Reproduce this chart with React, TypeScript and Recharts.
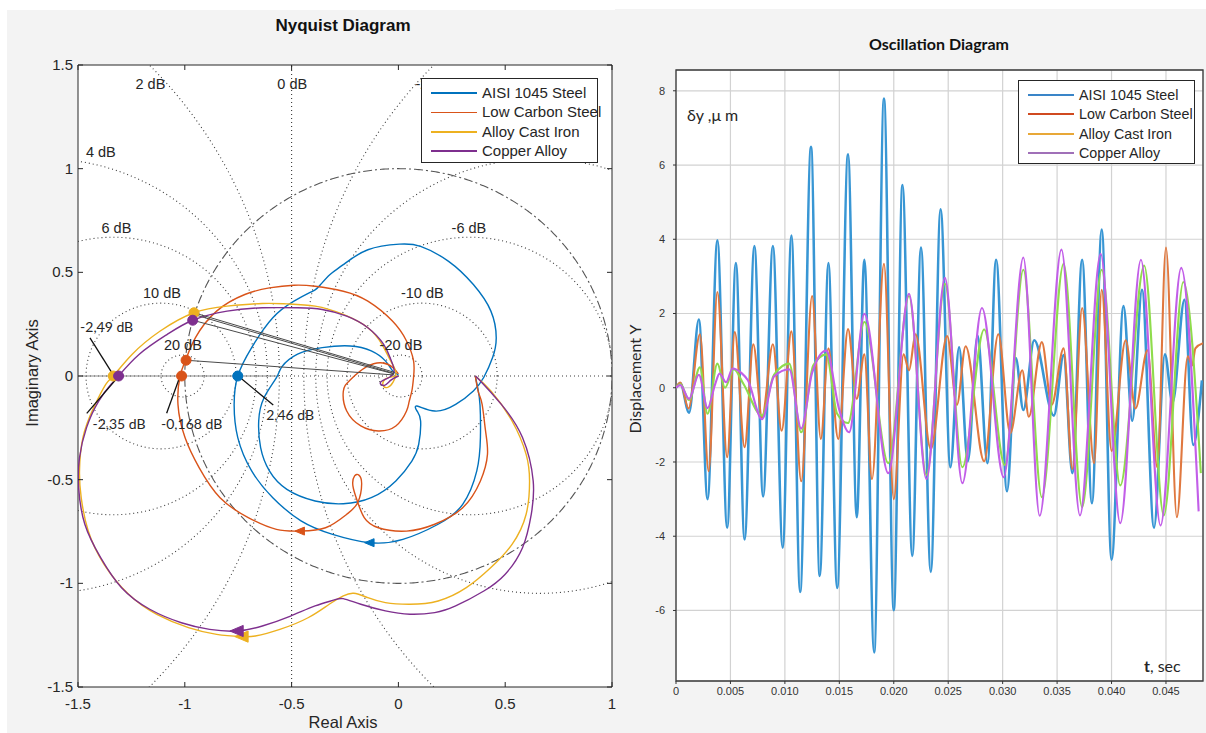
import React from 'react';
import { LineChart, Line, XAxis, YAxis, CartesianGrid, ReferenceLine, ReferenceDot, ReferenceArea } from 'recharts';

type P = [number, number];

const FONT = '"Liberation Sans", Arial, sans-serif';
const FONT2 = 'Lato, "Open Sans", sans-serif';

// ---------------- Nyquist panel data ----------------
const nyqXTicks = [-1.5, -1, -0.5, 0, 0.5, 1];
const nyqYTicks = [-1.5, -1, -0.5, 0, 0.5, 1, 1.5];
const mCircleDb = [20, 10, 6, 4, 2, -2, -4, -6, -10, -20];
const dbLabelText = ['2 dB', '0 dB', '-2 dB', '4 dB', '6 dB', '10 dB', '20 dB', '-6 dB', '-10 dB', '-20 dB'];
const dbLabelPos: P[] = [
  [-1.161, 1.411], [-0.497, 1.411], [0.161, 1.411], [-1.393, 1.082], [-1.32, 0.714],
  [-1.107, 0.402], [-1.009, 0.152], [0.33, 0.714], [0.112, 0.402], [0.012, 0.152],
];

const seriesNames = ['AISI 1045 Steel', 'Low Carbon Steel', 'Alloy Cast Iron', 'Copper Alloy'];
const nyqColors = ['#0072BD', '#D95319', '#EDB120', '#7E2F8E'];

const nyqAisi: P[] = [
  [0.36, 0.0], [0.372, -0.06], [0.382, -0.14], [0.384, -0.297], [0.367, -0.458], [0.301, -0.619], [0.186, -0.715],
  [0.021, -0.788], [-0.135, -0.804], [-0.308, -0.764], [-0.456, -0.699], [-0.588, -0.587], [-0.687, -0.458],
  [-0.752, -0.297], [-0.769, -0.137], [-0.752, 0.0], [-0.687, 0.137], [-0.588, 0.281], [-0.489, 0.361],
  [-0.42, 0.4], [-0.39, 0.415], [-0.365, 0.44], [-0.32, 0.49], [-0.258, 0.537], [-0.143, 0.609], [0.005, 0.636],
  [0.104, 0.625], [0.235, 0.553], [0.351, 0.441], [0.433, 0.313], [0.458, 0.185], [0.441, 0.089], [0.4, -0.006],
  [0.351, -0.072], [0.268, -0.137], [0.17, -0.169], [0.087, -0.145], [0.088, -0.17], [0.104, -0.217],
  [0.095, -0.33], [0.063, -0.41], [-0.012, -0.506], [-0.127, -0.587], [-0.258, -0.616], [-0.39, -0.603],
  [-0.522, -0.547], [-0.604, -0.458], [-0.645, -0.346], [-0.654, -0.217], [-0.629, -0.105], [-0.571, -0.008],
  [-0.545, 0.045], [-0.472, 0.105], [-0.357, 0.137], [-0.226, 0.145], [-0.127, 0.121], [-0.061, 0.073],
  [-0.028, 0.026], [0.0, 0.005],
];
const nyqLowCarbon: P[] = [
  [0.36, 0.0], [0.375, -0.08], [0.392, -0.137], [0.408, -0.265], [0.417, -0.378], [0.384, -0.506],
  [0.301, -0.635], [0.17, -0.715], [0.038, -0.748], [-0.094, -0.732], [-0.16, -0.683], [-0.19, -0.61],
  [-0.213, -0.53], [-0.205, -0.482], [-0.185, -0.478], [-0.172, -0.52], [-0.19, -0.61], [-0.242, -0.667],
  [-0.341, -0.732], [-0.461, -0.748], [-0.571, -0.74], [-0.703, -0.683], [-0.835, -0.587], [-0.933, -0.442],
  [-0.999, -0.297], [-1.032, -0.137], [-1.022, 0.0], [-0.997, 0.075], [-0.95, 0.185], [-0.851, 0.313],
  [-0.719, 0.393], [-0.604, 0.425], [-0.489, 0.438], [-0.39, 0.433], [-0.258, 0.409], [-0.143, 0.361],
  [-0.028, 0.265], [0.038, 0.169], [0.071, 0.073], [0.071, -0.006], [0.063, -0.072], [0.05, -0.125],
  [0.038, -0.169], [-0.012, -0.241], [-0.094, -0.265], [-0.176, -0.241], [-0.242, -0.169], [-0.258, -0.075],
  [-0.227, -0.02], [-0.148, 0.045], [-0.072, 0.063], [-0.025, 0.04], [0.0, 0.01],
];
const nyqCastIron: P[] = [
  [0.36, 0.0], [0.433, -0.072], [0.532, -0.217], [0.598, -0.378], [0.614, -0.506], [0.598, -0.667],
  [0.532, -0.812], [0.433, -0.924], [0.318, -1.021], [0.186, -1.085], [0.054, -1.101], [-0.061, -1.093],
  [-0.143, -1.069], [-0.209, -1.048], [-0.258, -1.061], [-0.324, -1.101], [-0.423, -1.166], [-0.555, -1.222],
  [-0.67, -1.254], [-0.733, -1.257], [-0.851, -1.246], [-0.983, -1.214], [-1.131, -1.15], [-1.263, -1.053],
  [-1.378, -0.908], [-1.452, -0.748], [-1.485, -0.587], [-1.493, -0.458], [-1.477, -0.297], [-1.427, -0.153],
  [-1.37, -0.04], [-1.335, 0.0], [-1.246, 0.105], [-1.115, 0.217], [-0.957, 0.305], [-0.802, 0.337],
  [-0.637, 0.35], [-0.522, 0.348], [-0.39, 0.337], [-0.258, 0.297], [-0.143, 0.233], [-0.077, 0.153],
  [-0.036, 0.073], [-0.012, 0.018], [-0.025, -0.03], [-0.05, -0.055], [-0.072, -0.045], [-0.062, -0.015],
  [-0.03, -0.004], [0.0, 0.0],
];
const nyqCopper: P[] = [
  [0.36, 0.0], [0.384, -0.024], [0.482, -0.137], [0.581, -0.297], [0.631, -0.506], [0.622, -0.667],
  [0.581, -0.828], [0.499, -0.957], [0.4, -1.037], [0.268, -1.109], [0.17, -1.141], [0.054, -1.149],
  [-0.061, -1.133], [-0.176, -1.101], [-0.258, -1.074], [-0.3, -1.08], [-0.39, -1.109], [-0.505, -1.158],
  [-0.637, -1.206], [-0.756, -1.23], [-0.884, -1.222], [-1.016, -1.19], [-1.164, -1.125], [-1.296, -1.021],
  [-1.394, -0.876], [-1.468, -0.715], [-1.497, -0.539], [-1.493, -0.394], [-1.46, -0.249], [-1.403, -0.121],
  [-1.345, -0.04], [-1.31, 0.0], [-1.213, 0.105], [-1.082, 0.201], [-0.963, 0.269], [-0.802, 0.313],
  [-0.637, 0.329], [-0.472, 0.329], [-0.357, 0.321], [-0.242, 0.289], [-0.143, 0.233], [-0.069, 0.153],
  [-0.036, 0.081], [-0.02, 0.026], [-0.04, -0.005], [-0.07, -0.02], [-0.085, -0.035], [-0.065, -0.045],
  [-0.035, -0.02], [0.0, 0.0],
];
const nyqCurves = [nyqAisi, nyqLowCarbon, nyqCastIron, nyqCopper];

// marker dots: [x, y, seriesIndex]
const nyqDots: [number, number, number][] = [
  [-1.335, 0.0, 2], [-0.957, 0.305, 2], [-1.31, 0.0, 3], [-0.963, 0.269, 3],
  [-1.015, 0.0, 1], [-0.994, 0.076, 1], [-0.752, 0.0, 0],
];
// direction arrows: [x, y, seriesIndex, size]
const nyqArrows: [number, number, number, number][] = [
  [-0.461, -0.748, 1, 5], [-0.135, -0.804, 0, 5], [-0.733, -1.257, 2, 7], [-0.756, -1.23, 3, 7],
];
// thin lines from the marked points towards the origin
const nyqLeaders: [P, P][] = [
  [[-0.957, 0.305], [-0.02, 0.018]], [[-0.955, 0.296], [-0.02, 0.012]], [[-0.963, 0.269], [-0.02, 0.01]],
  [[-0.994, 0.076], [-0.02, 0.005]],
];
const annotText = ['-2,49 dB', '-2,35 dB', '-0,168 dB', '2,46 dB'];
const annotPos: P[] = [[-1.366, 0.238], [-1.308, -0.23], [-0.968, -0.23], [-0.507, -0.188]];
const annotLines: [P, P][] = [
  [[-1.444, 0.184], [-1.335, 0.005]], [[-1.459, -0.18], [-1.311, -0.003]],
  [[-1.085, -0.18], [-1.022, 0.0]], [[-0.75, 0.0], [-0.586, -0.14]],
];

// ---------------- Oscillation panel data ----------------
const oscXTicks = [0, 0.005, 0.01, 0.015, 0.02, 0.025, 0.03, 0.035, 0.04, 0.045];
const oscYTicks = [-6, -4, -2, 0, 2, 4, 6, 8];
const oscColors = ['#3896d4', '#e0783f', '#8fdc4c', '#c25ee8'];
const oscLegendColors = ['#3a85c8', '#d04a20', '#e8a838', '#a070b8'];

const tAisi = [0, 0.0004, 0.0012, 0.0021, 0.0029, 0.0038, 0.0047, 0.0055, 0.0063, 0.0072, 0.008, 0.0089, 0.0098,
  0.0106, 0.0114, 0.0124, 0.0132, 0.014, 0.0148, 0.0158, 0.0166, 0.0173, 0.0182, 0.0191, 0.02, 0.0208, 0.0217,
  0.0225, 0.0234, 0.0243, 0.0252, 0.026, 0.0268, 0.0277, 0.0286, 0.0294, 0.0304, 0.0312, 0.0319, 0.0329, 0.0347,
  0.0356, 0.0364, 0.0373, 0.0382, 0.0391, 0.04, 0.0411, 0.0419, 0.0428, 0.0439, 0.0449, 0.0456, 0.0467, 0.0475, 0.0483];
const yAisi = [0, 0.12, -0.67, 1.84, -3.0, 3.97, -3.77, 3.36, -4.09, 3.82, -2.93, 3.82, -4.31, 4.1, -5.5, 6.49,
  -5.07, 3.36, -5.39, 6.29, -3.49, 3.45, -7.13, 7.79, -5.99, 5.46, -4.53, 3.78, -4.96, 4.81, -2.14, 1.09, -1.98,
  1.4, -2.03, 3.45, -2.79, 0.8, -0.6, 1.28, -0.75, 0.88, -2.3, 3.45, -3.11, 4.26, -4.63, 2.2, -0.89, 2.64, -3.77,
  0.9, -0.4, 2.37, -1.54, 0.2];

const tLowCarbon = [0, 0.0004, 0.00115, 0.0022, 0.003, 0.0038, 0.0047, 0.0054, 0.0063, 0.0071, 0.0079, 0.0089,
  0.0097, 0.0106, 0.0115, 0.0125, 0.0133, 0.014, 0.0149, 0.0158, 0.0166, 0.0173, 0.018, 0.0191, 0.02, 0.0209,
  0.0214, 0.022, 0.0234, 0.0249, 0.0258, 0.0266, 0.0283, 0.0296, 0.0307, 0.0318, 0.0324, 0.0336, 0.0345, 0.0356,
  0.0364, 0.0373, 0.0384, 0.0391, 0.04, 0.0413, 0.0422, 0.0433, 0.0442, 0.045, 0.046, 0.047, 0.0474, 0.0477, 0.0484];
const yLowCarbon = [0, 0.14, -0.56, 1.44, -2.25, 2.58, -1.87, 1.5, -1.6, 1.17, -0.8, 1.17, -1.16, 1.52, -2.52,
  2.47, -1.38, 1.06, -1.38, 1.58, -0.3, 0.9, -2.46, 3.34, -3.0, 0.9, 0.47, 1.44, -1.65, 1.39, -0.46, 1.12, -1.98,
  1.44, -1.22, 0.47, -0.78, 1.23, -0.46, 1.06, -2.19, 2.15, -2.03, 2.64, -1.7, 1.28, -0.56, 1.01, -2.14, 3.78,
  -3.49, 0.85, 0.6, 1.06, 1.2];

const tCastIron = [0, 0.0004, 0.0012, 0.0022, 0.0029, 0.0038, 0.0045, 0.0053, 0.0062, 0.0079, 0.009, 0.0104,
  0.0115, 0.0126, 0.0138, 0.0148, 0.0158, 0.0173, 0.0195, 0.0214, 0.023, 0.0247, 0.0263, 0.0283, 0.0302, 0.0319,
  0.0336, 0.0356, 0.0373, 0.0391, 0.0408, 0.043, 0.0448, 0.0466, 0.0482];
const yCastIron = [0, 0.1, -0.33, 0.55, -0.7, 0.65, 0.0, 0.5, 0.1, -0.75, 0.35, 0.65, -1.2, 0.6, 0.9, -0.7,
  -0.95, 1.77, -2.03, 2.47, -2.35, 2.8, -2.14, 1.57, -2.08, 3.18, -2.95, 3.34, -3.22, 3.18, -2.63, 3.29, -3.44,
  2.85, -2.3];

const tCopper = [0, 0.0004, 0.0012, 0.0021, 0.0029, 0.0036, 0.004, 0.0046, 0.0052, 0.006, 0.0066, 0.0079, 0.009,
  0.0104, 0.0115, 0.0125, 0.0138, 0.015, 0.0159, 0.0173, 0.0195, 0.0214, 0.023, 0.0247, 0.0263, 0.0281, 0.0301,
  0.0319, 0.0334, 0.0354, 0.0371, 0.039, 0.0408, 0.0427, 0.0445, 0.0464, 0.048];
const yCopper = [0, 0.07, -0.3, 0.35, -0.55, 0.1, 0.38, 0.15, 0.52, 0.4, 0.2, -0.85, 0.3, 0.5, -1.1, 0.4, 1.0,
  -0.6, -1.2, 1.99, -2.3, 2.53, -2.46, 2.96, -2.57, 2.15, -2.41, 3.51, -3.45, 3.72, -3.44, 3.61, -3.65, 3.45,
  -3.71, 3.23, -3.33];

const oscT = [tAisi, tLowCarbon, tCastIron, tCopper];
const oscY = [yAisi, yLowCarbon, yCastIron, yCopper];

// ---------------- layout ----------------
const NY = { left: 78, top: 65, right: 612, bottom: 687 };
const OS = { x0: 622, left: 676, top: 70, right: 1203, bottom: 681 };

const toPts = (arr: P[]) => arr.map(([x, y]) => ({ x, y }));
const circle = (cx: number, cy: number, r: number) =>
  Array.from({ length: 721 }, (_, i) => {
    const a = (i * Math.PI) / 360;
    return { x: cx + r * Math.cos(a), y: cy + r * Math.sin(a) };
  });
const mCircle = (db: number) => {
  const m2 = Math.pow(10, db / 10);
  const m = Math.sqrt(m2);
  return circle(-m2 / (m2 - 1), 0, Math.abs(m / (m2 - 1)));
};

const NyqXTick = (props: any) => {
  const { x, payload } = props;
  return (
    <g>
      <line x1={x} x2={x} y1={NY.bottom} y2={NY.bottom - 5} stroke="#262626" />
      <line x1={x} x2={x} y1={NY.top} y2={NY.top + 5} stroke="#262626" />
      <text x={x} y={NY.bottom + 22} textAnchor="middle" fontSize={15} fill="#262626" fontFamily={FONT}>
        {String(payload.value)}
      </text>
    </g>
  );
};
const NyqYTick = (props: any) => {
  const { y, payload } = props;
  return (
    <g>
      <line x1={NY.left} x2={NY.left + 5} y1={y} y2={y} stroke="#262626" />
      <line x1={NY.right} x2={NY.right - 5} y1={y} y2={y} stroke="#262626" />
      <text x={NY.left - 5} y={y + 5} textAnchor="end" fontSize={15} fill="#262626" fontFamily={FONT}>
        {String(payload.value)}
      </text>
    </g>
  );
};

const tri = (s: number, color: string) => (p: any) => (
  <polygon
    points={`${p.cx - s},${p.cy} ${p.cx + s * 0.9},${p.cy - s * 0.8} ${p.cx + s * 0.9},${p.cy + s * 0.8}`}
    fill={color}
    stroke={color}
  />
);
const txt = (t: string, size: number, family: string, anchor: string = 'middle') => (p: any) => (
  <text x={p.cx} y={p.cy + size * 0.35} textAnchor={anchor as any} fontSize={size} fill="#262626" fontFamily={family}>
    {t}
  </text>
);

function LegendBox(props: {
  left: number; top: number; width: number; height: number; colors: string[]; lineW: number[]; fontSize: number;
}) {
  const { left, top, width, height, colors, lineW, fontSize } = props;
  return (
    <div
      style={{
        position: 'absolute', left, top, width, height, boxSizing: 'border-box', background: '#fff',
        border: '1.3px solid #262626',
      }}
    >
      {seriesNames.map((n, i) => (
        <div key={n} style={{ position: 'absolute', left: 0, top: 14 + i * 19.4 - 10, height: 20, width: '100%' }}>
          <div style={{ position: 'absolute', left: 9, top: 10 - lineW[i] / 2, width: 46, height: lineW[i], background: colors[i] }} />
          <div
            style={{
              position: 'absolute', left: 60, top: 1, fontFamily: FONT, fontSize, color: '#262626',
              whiteSpace: 'nowrap', lineHeight: '18px',
            }}
          >
            {n}
          </div>
        </div>
      ))}
    </div>
  );
}

function Nyquist() {
  return (
    <LineChart
      width={620}
      height={733}
      margin={{ top: NY.top, right: 620 - NY.right, bottom: 733 - NY.bottom - 30, left: NY.left - 40 }}
      style={{ position: 'absolute', left: 0, top: 0 }}
    >
      <XAxis
        dataKey="x"
        type="number"
        domain={[-1.5, 1]}
        ticks={nyqXTicks}
        allowDataOverflow
        height={30}
        axisLine={false}
        tickLine={false}
        tick={<NyqXTick />}
        interval={0}
      />
      <YAxis
        dataKey="y"
        type="number"
        domain={[-1.5, 1.5]}
        ticks={nyqYTicks}
        allowDataOverflow
        width={40}
        axisLine={false}
        tickLine={false}
        tick={<NyqYTick />}
        interval={0}
      />
      {mCircleDb.map((db) => (
        <Line
          key={'m' + db}
          data={mCircle(db)}
          dataKey="y"
          stroke="#3a3a3a"
          strokeWidth={1.1}
          strokeDasharray="1 3"
          dot={false}
          activeDot={false}
          isAnimationActive={false}
          type="linear"
        />
      ))}
      <ReferenceLine x={-0.5} stroke="#3a3a3a" strokeWidth={1.1} strokeDasharray="1 3" />
      <ReferenceLine y={0} stroke="#3a3a3a" strokeWidth={1.1} strokeDasharray="1 3" />
      <ReferenceLine segment={[{ x: -1.5, y: 0 }, { x: -0.57, y: 0 }]} stroke="#8a8a8a" strokeWidth={1.2} />
      <Line
        data={circle(0, 0, 1)}
        dataKey="y"
        stroke="#555"
        strokeWidth={1.1}
        strokeDasharray="9 3 2 3"
        dot={false}
        activeDot={false}
        isAnimationActive={false}
        type="linear"
      />
      {nyqCurves.map((c, i) => (
        <Line
          key={'c' + i}
          data={toPts(c)}
          dataKey="y"
          stroke={nyqColors[i]}
          strokeWidth={1.4}
          dot={false}
          activeDot={false}
          isAnimationActive={false}
          type="natural"
        />
      ))}
      {nyqLeaders.map((s, i) => (
        <ReferenceLine
          key={'ld' + i}
          segment={[{ x: s[0][0], y: s[0][1] }, { x: s[1][0], y: s[1][1] }]}
          stroke="#4a4a4a"
          strokeWidth={1}
        />
      ))}
      {annotLines.map((s, i) => (
        <ReferenceLine
          key={'al' + i}
          segment={[{ x: s[0][0], y: s[0][1] }, { x: s[1][0], y: s[1][1] }]}
          stroke="#111"
          strokeWidth={1.3}
        />
      ))}
      {nyqDots.map((d, i) => (
        <ReferenceDot key={'d' + i} x={d[0]} y={d[1]} r={5} fill={nyqColors[d[2]]} stroke={nyqColors[d[2]]} />
      ))}
      {nyqArrows.map((a, i) => (
        <ReferenceDot key={'a' + i} x={a[0]} y={a[1]} r={a[3]} shape={tri(a[3], nyqColors[a[2]])} />
      ))}
      {dbLabelText.map((t, i) => (
        <ReferenceDot key={'db' + i} x={dbLabelPos[i][0]} y={dbLabelPos[i][1]} r={1} shape={txt(t, 14.5, FONT)} />
      ))}
      {annotText.map((t, i) => (
        <ReferenceDot key={'an' + i} x={annotPos[i][0]} y={annotPos[i][1]} r={1} shape={txt(t, 14, FONT2)} />
      ))}
      <ReferenceArea x1={-1.5} x2={1} y1={-1.5} y2={1.5} fill="none" stroke="#262626" strokeWidth={1} />
    </LineChart>
  );
}

function Oscillation() {
  return (
    <LineChart
      width={1206 - OS.x0}
      height={733}
      margin={{ top: OS.top, right: 1206 - OS.right, bottom: 733 - OS.bottom - 25, left: OS.left - OS.x0 - 30 }}
      style={{ position: 'absolute', left: OS.x0, top: 0 }}
    >
      <CartesianGrid stroke="#d2d2d2" strokeWidth={1.2} />
      <XAxis
        dataKey="t"
        type="number"
        domain={[0, 0.0484]}
        ticks={oscXTicks}
        allowDataOverflow
        height={25}
        axisLine={false}
        tickSize={3}
        tickMargin={3}
        tickLine={{ stroke: '#333' }}
        tick={{ fontSize: 11, fill: '#333', fontFamily: FONT }}
        tickFormatter={(v: number) => (v === 0 ? '0' : v.toFixed(3))}
        interval={0}
      />
      <YAxis
        dataKey="v"
        type="number"
        domain={[-7.9, 8.56]}
        ticks={oscYTicks}
        allowDataOverflow
        width={30}
        axisLine={false}
        tickSize={3}
        tickMargin={8}
        tickLine={{ stroke: '#333' }}
        tick={{ fontSize: 11, fill: '#333', fontFamily: FONT }}
        interval={0}
      />
      {oscT.map((ts, i) => (
        <Line
          key={'o' + i}
          data={ts.map((t, k) => ({ t, v: oscY[i][k] }))}
          dataKey="v"
          stroke={oscColors[i]}
          strokeWidth={i === 0 ? 2.6 : 2.1}
          dot={false}
          activeDot={false}
          isAnimationActive={false}
          type="monotone"
        />
      ))}
      <ReferenceArea x1={0} x2={0.0484} y1={-7.9} y2={8.56} fill="none" stroke="#3a3a3a" strokeWidth={1.3} />
    </LineChart>
  );
}

export default function App() {
  return (
    <div style={{ position: 'absolute', left: 0, top: 0, width: 1206, height: 733, background: '#fff', overflow: 'hidden' }}>
      <div style={{ position: 'absolute', left: 7, top: 10, width: 613, height: 723, background: '#f3f3f3' }} />
      <div style={{ position: 'absolute', left: 615, top: 9, width: 591, height: 724, background: '#f3f3f3' }} />
      <div
        style={{
          position: 'absolute', left: NY.left, top: NY.top, width: NY.right - NY.left, height: NY.bottom - NY.top,
          background: '#fff',
        }}
      />
      <div
        style={{
          position: 'absolute', left: OS.left, top: OS.top, width: OS.right - OS.left, height: OS.bottom - OS.top,
          background: '#fff',
        }}
      />
      <div
        style={{
          position: 'absolute', left: 343, top: 26, transform: 'translate(-50%, -50%)', fontFamily: FONT,
          fontWeight: 'bold', fontSize: 17, color: '#111', whiteSpace: 'nowrap',
        }}
      >
        Nyquist Diagram
      </div>
      <div
        style={{
          position: 'absolute', left: 939, top: 43, transform: 'translate(-50%, -50%)', fontFamily: FONT2,
          fontWeight: 'bold', fontSize: 16, color: '#111', whiteSpace: 'nowrap',
        }}
      >
        Oscillation Diagram
      </div>
      <Nyquist />
      <Oscillation />
      <div
        style={{
          position: 'absolute', left: 343, top: 722, transform: 'translate(-50%, -50%)', fontFamily: FONT,
          fontSize: 16.5, color: '#262626', whiteSpace: 'nowrap',
        }}
      >
        Real Axis
      </div>
      <div
        style={{
          position: 'absolute', left: 32, top: 373, transform: 'translate(-50%, -50%) rotate(-90deg)',
          fontFamily: FONT, fontSize: 16.5, color: '#262626', whiteSpace: 'nowrap',
        }}
      >
        Imaginary Axis
      </div>
      <div
        style={{
          position: 'absolute', left: 634, top: 379, transform: 'translate(-50%, -50%) rotate(-90deg)',
          fontFamily: FONT2, fontSize: 16, color: '#262626', whiteSpace: 'nowrap',
        }}
      >
        Displacement Y
      </div>
      <div
        style={{
          position: 'absolute', left: 687, top: 114, transform: 'translate(0, -50%)', fontFamily: FONT2,
          fontSize: 16, color: '#262626', whiteSpace: 'nowrap',
        }}
      >
        δy ,μ m
      </div>
      <div
        style={{
          position: 'absolute', left: 1144, top: 665, transform: 'translate(0, -50%)', fontFamily: FONT2,
          fontSize: 16, color: '#262626', whiteSpace: 'nowrap',
        }}
      >
        <b>t</b>, sec
      </div>
      <LegendBox left={421} top={78} width={177} height={85} colors={nyqColors} lineW={[1.5, 1.5, 2.5, 1.5]} fontSize={15} />
      <LegendBox left={1018} top={80} width={177} height={84} colors={oscLegendColors} lineW={[1.8, 1.8, 1.8, 2.2]} fontSize={14.3} />
    </div>
  );
}
